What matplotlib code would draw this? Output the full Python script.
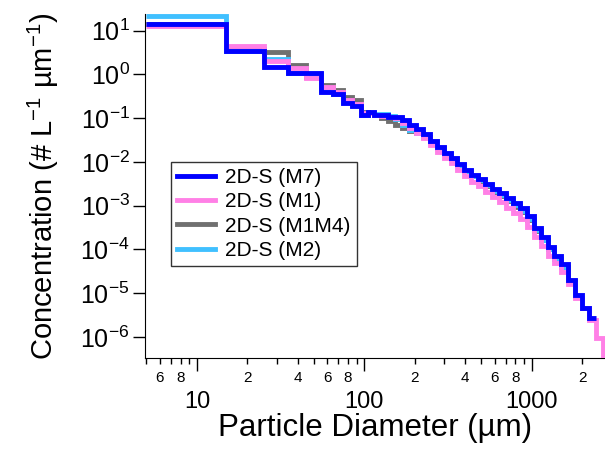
import numpy as np
import matplotlib.pyplot as plt
from matplotlib.ticker import LogLocator, FuncFormatter, NullLocator

plt.rcParams['font.family'] = ['Liberation Sans', 'DejaVu Sans']
plt.rcParams['mathtext.default'] = 'regular'

# bin edges (um), shared by all series
edges = [5, 15, 25, 35, 45, 55, 65, 75, 85, 95, 105, 115, 126, 139, 153, 168, 185,
         203, 224, 246, 271, 298, 328, 360, 396, 436, 480, 528, 580, 638, 702, 772,
         849, 934, 1028, 1130, 1243, 1368, 1504, 1655, 1820, 2002, 2202, 2423, 2665, 2930]

# concentration per bin (# L-1 um-1)
m7 = [14.1, 3.5, 1.5, 1.08, 1.06, 0.40, 0.35, 0.22, 0.19, 0.118,
      0.138, 0.118, 0.118, 0.106, 0.106, 0.0906, 0.0695, 0.0562, 0.0433, 0.0299,
      0.0219, 0.0158, 0.0123, 0.0089, 0.0065, 0.0050, 0.0041, 0.0031, 0.0024, 0.00195,
      0.00148, 0.00115, 0.00087, 0.00058, 0.00031, 0.00019, 0.000112, 6.9e-5, 4.6e-5, 2.0e-5,
      8.9e-6, 4.5e-6, 2.7e-6]
m1 = [12.8, 4.4, 2.0, 1.38, 0.81, 0.51, 0.40, 0.26, 0.21, 0.13,
      0.132, 0.120, 0.112, 0.107, 0.100, 0.079, 0.060, 0.047, 0.035, 0.024,
      0.017, 0.0123, 0.0093, 0.0066, 0.0047, 0.0035, 0.0028, 0.0021, 0.0016, 0.00123,
      0.00089, 0.00068, 0.00049, 0.00032, 0.00019, 0.000117, 7.1e-5, 4.8e-5, 3.0e-5, 1.66e-5,
      7.9e-6, 4.5e-6, 2.4e-6, 9.3e-7, 2.5e-7]
m1m4 = [14.0, 3.8, 3.3, 1.64, 0.85, 0.57, 0.44, 0.31, 0.26, 0.14,
        0.13, 0.12, 0.10, 0.085, 0.068, 0.060, 0.052, 0.045, 0.037, 0.028,
        0.021, 0.0155, 0.0118, 0.0086, 0.0062, 0.0047, 0.0037, 0.0028, 0.0021, 0.00165,
        0.00125, 0.00095, 0.00070, 0.00046, 0.00027, 0.000165, 0.0001, 6.2e-5, 4.0e-5, 1.9e-5,
        8.5e-6]
m2 = [21.5, 3.5, 2.3, 1.1, 1.0, 0.45, 0.36, 0.23, 0.20, 0.12,
      0.13, 0.125, 0.125, 0.11, 0.095, 0.068, 0.055, 0.045, 0.037, 0.028,
      0.021, 0.0152, 0.0118, 0.0085, 0.0062, 0.0048, 0.0039, 0.0029, 0.0022, 0.0018,
      0.00136, 0.00104, 0.00076, 0.00050, 0.00028, 0.000165, 0.0001, 6.0e-5, 4.0e-5]

series = [
    ('2D-S (M7)', m7, '#0000ff', 4),
    ('2D-S (M1)', m1, '#ff80e6', 3),
    ('2D-S (M1M4)', m1m4, '#707070', 1),
    ('2D-S (M2)', m2, '#40c0ff', 2),
]

fig = plt.figure(figsize=(6.05, 4.5), dpi=100)
ax = fig.add_axes([0.2397, 0.2044, 0.7603, 0.7645])

for label, vals, color, z in series:
    ax.stairs(vals, edges[:len(vals) + 1], baseline=None, color=color,
              linewidth=3.5, zorder=z, label=label)

ax.set_xscale('log')
ax.set_yscale('log')
ax.set_xlim(4.9, 2740)
ax.set_ylim(3.3e-7, 24)

ax.spines['top'].set_visible(False)
ax.spines['right'].set_visible(False)

# x axis: majors labelled below the minor labels
ax.xaxis.set_major_locator(LogLocator(base=10, numticks=10))
ax.xaxis.set_minor_locator(LogLocator(base=10, subs=np.arange(2, 10), numticks=20))
ax.xaxis.set_major_formatter(FuncFormatter(lambda v, p: '%d' % round(v)))

def minor_fmt(v, p):
    d = int(round(v / 10 ** np.floor(np.log10(v) + 1e-9)))
    return str(d) if d in (2, 4, 6, 8) else ''

ax.xaxis.set_minor_formatter(FuncFormatter(minor_fmt))
ax.tick_params(axis='x', which='major', direction='out', length=9, width=1, labelsize=17, pad=15)
ax.tick_params(axis='x', which='minor', direction='out', length=4.5, width=1, labelsize=11, pad=5)

ax.yaxis.set_minor_locator(NullLocator())
ax.yaxis.set_major_locator(LogLocator(base=10, numticks=12))
ax.tick_params(axis='y', which='major', direction='out', length=9, width=1, labelsize=18, pad=2)

ax.set_xlabel('Particle Diameter (µm)', fontsize=22.5, labelpad=0)
ax.set_ylabel('Concentration (# L$^{-1}$ µm$^{-1}$)', fontsize=21, labelpad=14)

leg = ax.legend(loc='upper left', bbox_to_anchor=(0.2826, 0.64), bbox_transform=fig.transFigure,
                fontsize=15, frameon=True, fancybox=False, edgecolor='black',
                borderaxespad=0, handlelength=1.8, handletextpad=0.5,
                labelspacing=0.25, borderpad=0.3)
leg.get_frame().set_linewidth(1)

fig.savefig('out.png', dpi=100)
